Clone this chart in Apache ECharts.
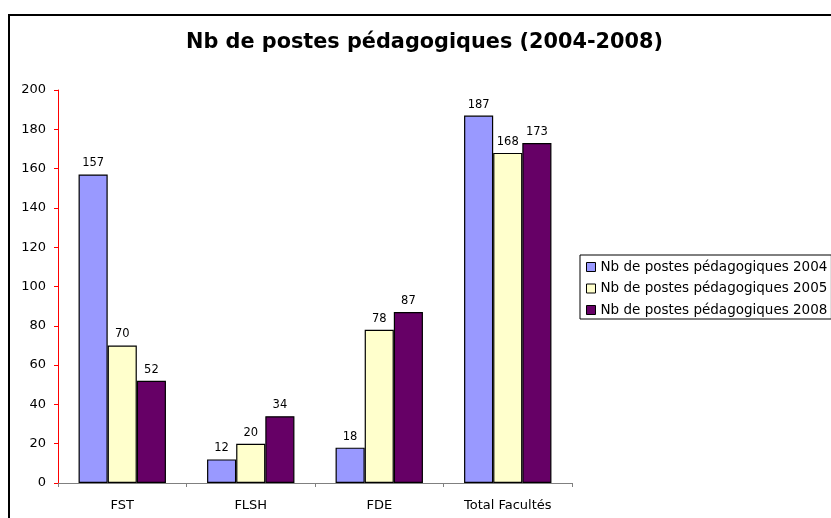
<!DOCTYPE html>
<html>
<head>
<meta charset="utf-8">
<script src="https://cdn.jsdelivr.net/npm/echarts@6/dist/echarts.min.js"></script>
<style>
  html, body { margin: 0; padding: 0; background: #fff; }
  #chart { width: 831px; height: 518px; }
</style>
</head>
<body>
<div id="chart"></div>
<script>
// data
const categories = ['FST', 'FLSH', 'FDE', 'Total Facultés'];
const postes2004 = [157, 12, 18, 187];
const postes2005 = [70, 20, 78, 168];
const postes2008 = [52, 34, 87, 173];
const yTicks = { min: 0, max: 200, interval: 20 };

const font = 'DejaVu Sans, Verdana, sans-serif';

function barSeries(name, values, color) {
  return {
    name: name,
    type: 'bar',
    data: values,
    barGap: '0%',
    barCategoryGap: '32%',
    itemStyle: { color: color, borderColor: '#000', borderWidth: 1.2 },
    label: {
      show: true,
      position: 'top',
      distance: 5,
      color: '#000',
      fontFamily: font,
      fontSize: 11.5
    }
  };
}

const chart = echarts.init(document.getElementById('chart'));
chart.setOption({
  animation: false,
  backgroundColor: '#fff',
  title: {
    text: 'Nb de postes pédagogiques (2004-2008)',
    left: 186,
    top: 32,
    padding: 0,
    textStyle: { fontFamily: font, fontSize: 20.8, fontWeight: 'bold', color: '#000' }
  },
  graphic: [{
    type: 'rect',
    shape: { x: 9, y: 15, width: 1000, height: 1000 },
    style: { fill: null, stroke: '#000', lineWidth: 2 },
    silent: true
  }],
  legend: {
    orient: 'vertical',
    left: 580,
    top: 255,
    padding: [5, 4, 2, 6],
    itemGap: 7.5,
    itemWidth: 9,
    itemHeight: 9,
    borderColor: '#000',
    borderWidth: 1,
    icon: 'rect',
    itemStyle: { borderColor: '#000', borderWidth: 1 },
    textStyle: { fontFamily: font, fontSize: 13.5, color: '#000' }
  },
  grid: { left: 58, right: 259, top: 90, bottom: 35 },
  xAxis: {
    type: 'category',
    data: categories,
    axisLine: { lineStyle: { color: '#808080', width: 1 } },
    axisTick: { show: true, length: 4, lineStyle: { color: '#808080' } },
    axisLabel: { margin: 16, color: '#000', fontFamily: font, fontSize: 13 }
  },
  yAxis: {
    type: 'value',
    min: yTicks.min,
    max: yTicks.max,
    interval: yTicks.interval,
    axisLine: { show: true, lineStyle: { color: '#ff0000', width: 1 } },
    axisTick: { show: true, length: 4, lineStyle: { color: '#ff0000' } },
    splitLine: { show: false },
    axisLabel: { margin: 12, color: '#000', fontFamily: font, fontSize: 13 }
  },
  series: [
    barSeries('Nb de postes pédagogiques 2004', postes2004, '#9999ff'),
    barSeries('Nb de postes pédagogiques 2005', postes2005, '#ffffcc'),
    barSeries('Nb de postes pédagogiques 2008', postes2008, '#660066')
  ]
});
</script>
</body>
</html>
